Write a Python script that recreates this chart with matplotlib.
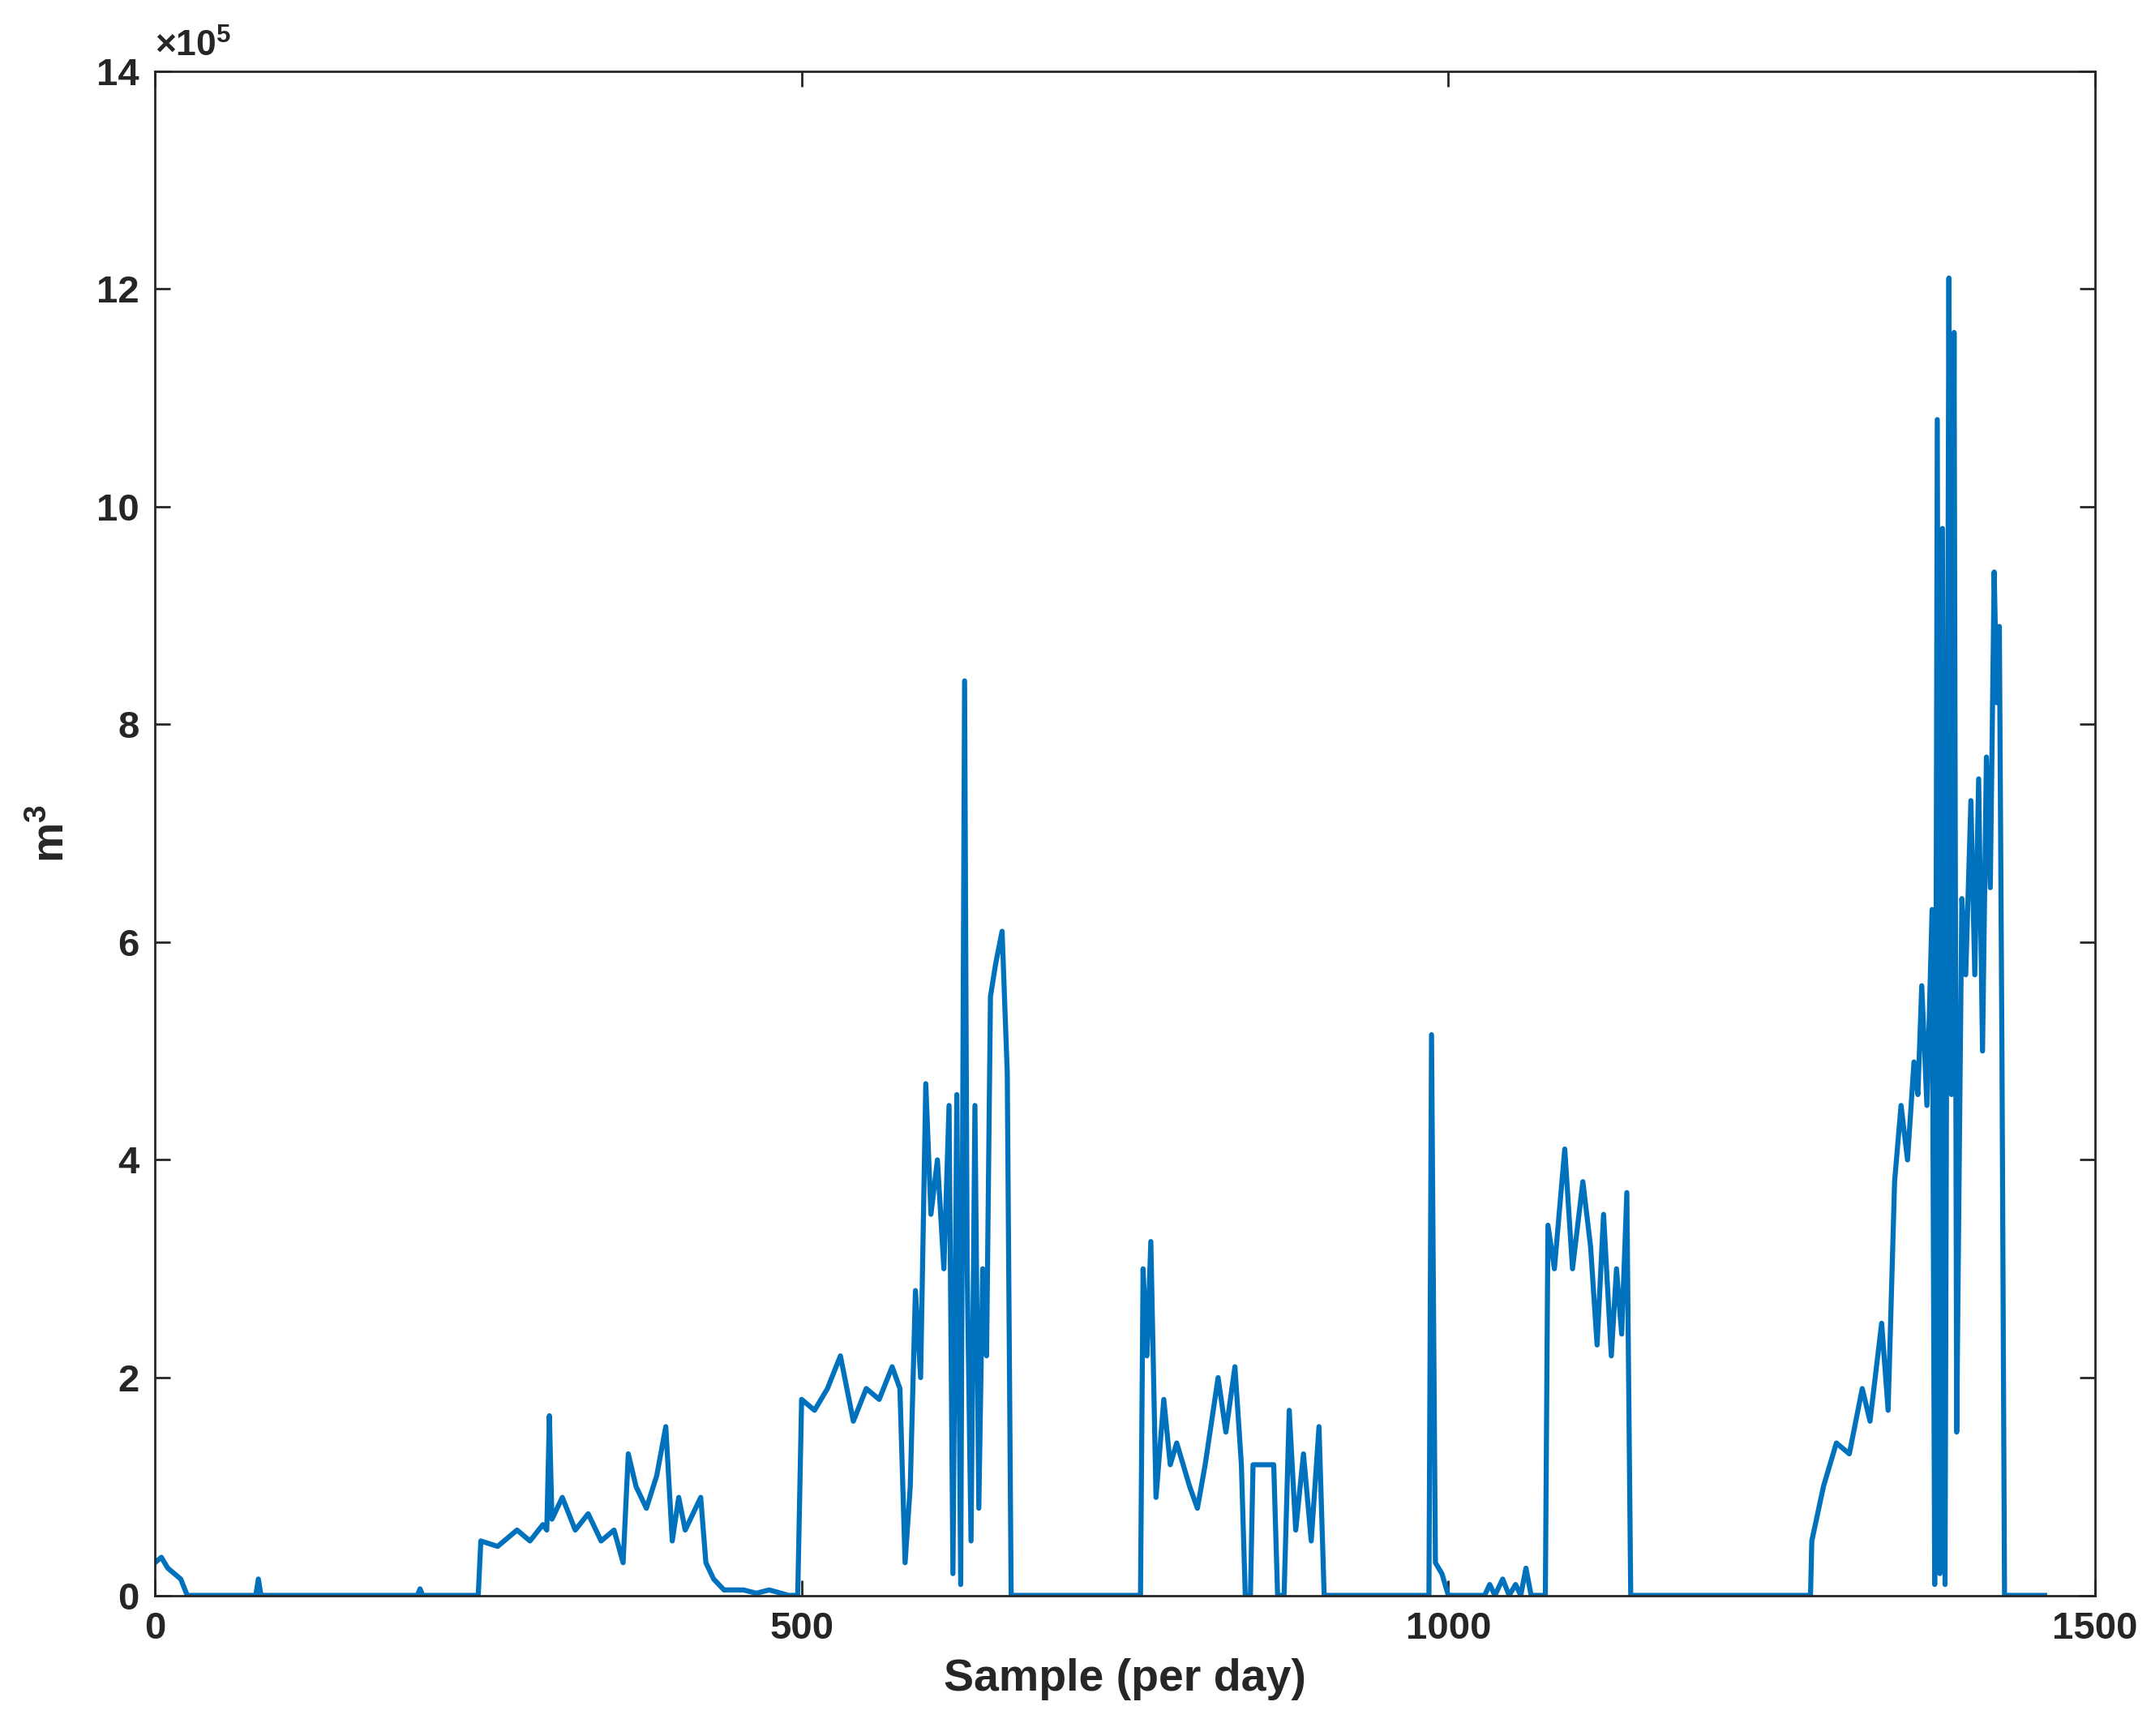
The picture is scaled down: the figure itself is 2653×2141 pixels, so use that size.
import numpy as np
import matplotlib.pyplot as plt
from matplotlib.ticker import FuncFormatter

# key points (sample index, volume in 1e5 m^3)
sample = [0, 5, 10, 15, 20, 25, 78, 80, 82, 203, 205, 207, 250, 252, 265, 280, 290, 300, 303, 305, 307,
          315, 325, 335, 345, 355, 362, 366, 372, 380, 388, 395, 400, 405, 410, 418, 422, 426, 432, 440,
          455, 465, 475, 490, 497, 500, 510, 520, 530, 540, 550, 560, 570, 576, 580, 584, 588, 592, 596,
          600, 605, 610, 614, 617, 620, 623, 626, 628, 631, 634, 637, 640, 643, 646, 650, 655, 659, 662,
          762, 764, 767, 770, 774, 780, 785, 790, 800, 806, 812, 822, 828, 835, 840, 843, 847, 849, 865,
          868, 873, 877, 882, 888, 894, 900, 904, 985, 987, 990, 995, 1000, 1028, 1032, 1036, 1042, 1047,
          1052, 1056, 1060, 1064, 1075, 1077, 1082, 1090, 1096, 1104, 1110, 1115, 1120, 1126, 1130, 1134,
          1138, 1141, 1280, 1281, 1290, 1300, 1310, 1320, 1326, 1335, 1340, 1345, 1350, 1355, 1360, 1363,
          1366, 1370, 1374, 1376, 1378, 1380, 1382, 1384, 1387, 1389, 1391, 1393, 1395, 1397, 1400, 1404,
          1407, 1410, 1413, 1416, 1419, 1422, 1424, 1426, 1428, 1430, 1461]
volume = [0.3, 0.35, 0.25, 0.2, 0.15, 0, 0, 0.15, 0, 0, 0.06, 0, 0, 0.5, 0.45, 0.6, 0.5, 0.65, 0.6, 1.65, 0.7,
          0.9, 0.6, 0.75, 0.5, 0.6, 0.3, 1.3, 1.0, 0.8, 1.1, 1.55, 0.5, 0.9, 0.6, 0.8, 0.9, 0.3, 0.15, 0.05,
          0.05, 0.02, 0.05, 0, 0, 1.8, 1.7, 1.9, 2.2, 1.6, 1.9, 1.8, 2.1, 1.9, 0.3, 1.0, 2.8, 2.0, 4.7,
          3.5, 4.0, 3.0, 4.5, 0.2, 4.6, 0.1, 8.4, 3.0, 0.5, 4.5, 0.8, 3.0, 2.2, 5.5, 5.8, 6.1, 4.8, 0,
          0, 3.0, 2.2, 3.25, 0.9, 1.8, 1.2, 1.4, 1.0, 0.8, 1.2, 2.0, 1.5, 2.1, 1.2, 0, 0, 1.2, 1.2,
          0, 0, 1.7, 0.6, 1.3, 0.5, 1.55, 0, 0, 5.15, 0.3, 0.2, 0, 0, 0.1, 0, 0.15, 0,
          0.1, 0, 0.25, 0, 0, 3.4, 3.0, 4.1, 3.0, 3.8, 3.2, 2.3, 3.5, 2.2, 3.0, 2.4,
          3.7, 0, 0, 0.5, 1.0, 1.4, 1.3, 1.9, 1.6, 2.5, 1.7, 3.8, 4.5, 4.0, 4.9, 4.6,
          5.6, 4.5, 6.3, 0.1, 10.8, 0.2, 9.8, 0.1, 12.1, 4.6, 11.6, 1.5, 4.0, 6.4, 5.7, 7.3,
          5.7, 7.5, 5.0, 7.7, 6.5, 9.4, 8.2, 8.9, 5.0, 0, 0]
xticks = [0, 500, 1000, 1500]
yticks = [0, 2, 4, 6, 8, 10, 12, 14]

plt.rcParams['font.family'] = ['Liberation Sans', 'DejaVu Sans']
plt.rcParams['font.weight'] = 'bold'
plt.rcParams['mathtext.fontset'] = 'custom'
plt.rcParams['mathtext.rm'] = 'Liberation Sans'
plt.rcParams['mathtext.bf'] = 'Liberation Sans:bold'

fig = plt.figure(figsize=(26.53, 21.41), dpi=100)
ax = fig.add_axes([0.072, 0.081, 0.902, 0.878])
ax.plot(sample, np.array(volume) * 1e5, color='#0072BD', lw=4.5)

ax.set_xlim(0, 1500)
ax.set_ylim(0, 14e5)
ax.set_xticks(xticks)
ax.set_yticks([v * 1e5 for v in yticks])
ax.yaxis.set_major_formatter(FuncFormatter(lambda v, p: f"{v / 1e5:g}"))
ax.tick_params(direction='in', top=True, right=True, labelsize=34, length=14, width=2,
               colors='#262626', pad=14)
for lab in ax.get_xticklabels() + ax.get_yticklabels():
    lab.set_fontweight('bold')
for s in ax.spines.values():
    s.set_linewidth(2)
    s.set_color('#262626')

ax.set_xlabel('Sample (per day)', fontsize=40, fontweight='bold', color='#262626', labelpad=10)
ax.set_ylabel(r'm$^\mathbf{3}$', fontsize=40, fontweight='bold', color='#262626', labelpad=20)
ax.text(0.0, 1.005, r'$\times$10$^{5}$', transform=ax.transAxes, fontsize=32,
        color='#262626', va='bottom', ha='left')

fig.savefig('out.png')
